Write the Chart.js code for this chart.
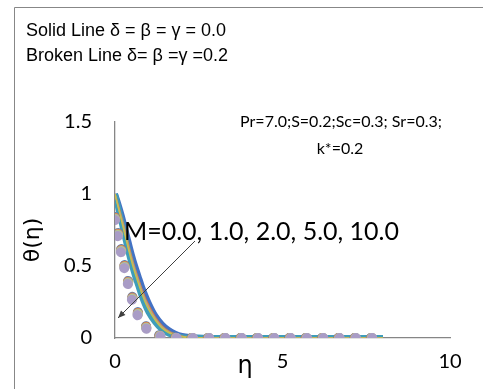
<!DOCTYPE html>
<html lang="en">
<head>
    <meta charset="UTF-8">
    <script src="https://cdn.jsdelivr.net/npm/chart.js"></script>
    <title>theta profiles</title>
    <style>
        body { margin: 0; background: #fff; }
        #wrap { width: 483px; height: 389px; position: relative; }
    </style>
</head>
<body>
    <div id="wrap"><canvas id="thetaChart" width="483" height="389"></canvas></div>

    <script>
        // eta grid
        const eta = [0, 0.1, 0.2, 0.3, 0.4, 0.5, 0.6, 0.7, 0.8, 0.9, 1.0, 1.2, 1.4, 1.6, 1.8, 2.0, 2.5, 3, 3.5, 4, 4.5, 5, 5.5, 6, 6.5, 7, 7.5, 8];

        const mLabels = ['M=0.0', 'M=1.0', 'M=2.0', 'M=5.0', 'M=10.0'];

        // solid lines, delta = beta = gamma = 0.0
        const solidM0  = [1.00, 0.93, 0.85, 0.76, 0.67, 0.58, 0.50, 0.43, 0.36, 0.30, 0.245, 0.155, 0.095, 0.055, 0.030, 0.015, 0.002, 0, 0, 0, 0, 0, 0, 0, 0, 0, 0, 0];
        const solidM1  = [1.00, 0.92, 0.835, 0.745, 0.65, 0.56, 0.48, 0.41, 0.34, 0.28, 0.23, 0.145, 0.085, 0.048, 0.026, 0.012, 0.002, 0, 0, 0, 0, 0, 0, 0, 0, 0, 0, 0];
        const solidM2  = [1.00, 0.91, 0.825, 0.73, 0.635, 0.545, 0.465, 0.395, 0.325, 0.265, 0.215, 0.135, 0.078, 0.043, 0.022, 0.010, 0.001, 0, 0, 0, 0, 0, 0, 0, 0, 0, 0, 0];
        const solidM5  = [1.00, 0.905, 0.81, 0.715, 0.62, 0.53, 0.45, 0.38, 0.31, 0.25, 0.20, 0.125, 0.07, 0.038, 0.018, 0.008, 0.001, 0, 0, 0, 0, 0, 0, 0, 0, 0, 0, 0];
        const solidM10 = [1.00, 0.90, 0.80, 0.70, 0.60, 0.51, 0.43, 0.36, 0.29, 0.23, 0.18, 0.11, 0.06, 0.03, 0.014, 0.006, 0.001, 0, 0, 0, 0, 0, 0, 0, 0, 0, 0, 0];

        // broken lines, delta = beta = gamma = 0.2
        const brokenM0  = [0.84, 0.72, 0.60, 0.49, 0.39, 0.30, 0.23, 0.17, 0.125, 0.09, 0.062, 0.03, 0.013, 0.005, 0.002, 0.001, 0, 0, 0, 0, 0, 0, 0, 0, 0, 0, 0, 0];
        const brokenM1  = [0.835, 0.715, 0.595, 0.485, 0.385, 0.295, 0.225, 0.165, 0.12, 0.086, 0.06, 0.028, 0.012, 0.005, 0.002, 0.001, 0, 0, 0, 0, 0, 0, 0, 0, 0, 0, 0, 0];
        const brokenM2  = [0.83, 0.71, 0.59, 0.48, 0.38, 0.29, 0.22, 0.16, 0.115, 0.082, 0.057, 0.027, 0.012, 0.005, 0.002, 0.001, 0, 0, 0, 0, 0, 0, 0, 0, 0, 0, 0, 0];
        const brokenM5  = [0.825, 0.70, 0.58, 0.47, 0.37, 0.28, 0.21, 0.155, 0.11, 0.078, 0.054, 0.025, 0.011, 0.004, 0.001, 0, 0, 0, 0, 0, 0, 0, 0, 0, 0, 0, 0, 0];
        const brokenM10 = [0.82, 0.69, 0.57, 0.46, 0.36, 0.27, 0.20, 0.145, 0.105, 0.075, 0.05, 0.024, 0.01, 0.004, 0.001, 0, 0, 0, 0, 0, 0, 0, 0, 0, 0, 0, 0, 0];

        const xTicks = [0, 5, 10];
        const yTicks = [0, 0.5, 1, 1.5];

        function pts(vals) {
            return vals.map((v, i) => ({ x: eta[i], y: v }));
        }

        const solidSets = [
            { label: mLabels[0], data: pts(solidM0),  borderColor: '#4472C4', borderWidth: 6 },
            { label: mLabels[4], data: pts(solidM10), borderColor: '#3E9DBA', borderWidth: 6 },
            { label: mLabels[1], data: pts(solidM1),  borderColor: '#ED7D31', borderWidth: 1.5 },
            { label: mLabels[2], data: pts(solidM2),  borderColor: '#A5A5A5', borderWidth: 1.5 },
            { label: mLabels[3], data: pts(solidM5),  borderColor: '#C9C04A', borderWidth: 1.5 }
        ];
        const brokenSets = [
            { label: mLabels[0], data: pts(brokenM0),  borderColor: '#4F81BD' },
            { label: mLabels[1], data: pts(brokenM1),  borderColor: '#ED7D31' },
            { label: mLabels[2], data: pts(brokenM2),  borderColor: '#A5A5A5' },
            { label: mLabels[3], data: pts(brokenM5),  borderColor: '#B8D08A' },
            { label: mLabels[4], data: pts(brokenM10), borderColor: '#A99CC6' }
        ];

        const datasets = [];
        solidSets.forEach(s => datasets.push(Object.assign({
            pointRadius: 0, cubicInterpolationMode: 'monotone', fill: false
        }, s)));
        brokenSets.forEach(s => datasets.push(Object.assign({
            pointRadius: 0, cubicInterpolationMode: 'monotone', fill: false,
            borderWidth: 10, borderDash: [0.1, 16.2], borderCapStyle: 'round'
        }, s)));
        // later datasets should be painted on top
        datasets.forEach((d, i) => d.order = datasets.length - i);

        const labelFont = "Lato, 'Open Sans', sans-serif";

        const decor = {
            id: 'decor',
            beforeDraw(chart) {
                const c = chart.ctx;
                c.save();
                c.fillStyle = '#fff';
                c.fillRect(0, 0, chart.width, chart.height);
                c.strokeStyle = '#878787';
                c.lineWidth = 1;
                c.beginPath();
                c.moveTo(14.5, 400);
                c.lineTo(14.5, 7.5);
                c.lineTo(490, 7.5);
                c.stroke();
                c.restore();
            },
            afterDraw(chart) {
                const c = chart.ctx;
                c.save();
                c.fillStyle = '#000';
                c.textBaseline = 'alphabetic';
                c.textAlign = 'left';
                c.font = "18px 'Liberation Sans', Arial, sans-serif";
                c.fillText('Solid Line \u03B4 = \u03B2 = \u03B3 = 0.0', 26, 36);
                c.fillText('Broken Line \u03B4= \u03B2 =\u03B3 =0.2', 26, 61);

                c.textAlign = 'center';
                c.textBaseline = 'middle';
                c.font = '16px ' + labelFont;
                c.fillText('Pr=7.0;S=0.2;Sc=0.3; Sr=0.3;', 341, 122);
                c.fillText('k*=0.2', 340, 149);

                c.font = '25px ' + labelFont;
                c.textAlign = 'left';
                c.fillText('M=0.0, 1.0, 2.0, 5.0, 10.0', 124, 232);

                // arrow
                const x0 = 195, y0 = 241, x1 = 118, y1 = 318;
                c.strokeStyle = '#404040';
                c.fillStyle = '#404040';
                c.lineWidth = 1;
                c.beginPath();
                c.moveTo(x0, y0);
                c.lineTo(x1, y1);
                c.stroke();
                const a = Math.atan2(y1 - y0, x1 - x0);
                c.beginPath();
                c.moveTo(x1, y1);
                c.lineTo(x1 - 8 * Math.cos(a - 0.4), y1 - 8 * Math.sin(a - 0.4));
                c.lineTo(x1 - 8 * Math.cos(a + 0.4), y1 - 8 * Math.sin(a + 0.4));
                c.closePath();
                c.fill();

                // axis titles
                c.fillStyle = '#000';
                c.font = "24px 'DejaVu Sans', sans-serif";
                c.textAlign = 'center';
                c.fillText('\u03B7', 245, 367);
                c.font = "22px 'DejaVu Sans', sans-serif";
                c.translate(33, 240);
                c.rotate(-Math.PI / 2);
                c.fillText('\u03B8(\u03B7)', 0, 0);
                c.restore();
            }
        };

        const ctx = document.getElementById('thetaChart').getContext('2d');
        new Chart(ctx, {
            type: 'line',
            data: { datasets: datasets },
            options: {
                responsive: false,
                animation: false,
                devicePixelRatio: 1,
                layout: { padding: { left: 0, right: 33, top: 122, bottom: 0 } },
                plugins: { legend: { display: false }, tooltip: { enabled: false } },
                scales: {
                    x: {
                        type: 'linear',
                        min: 0, max: 10,
                        afterBuildTicks: s => { s.ticks = xTicks.map(v => ({ value: v })); },
                        afterFit: s => { s.height = 51; },
                        grid: { drawOnChartArea: false, drawTicks: false },
                        border: { display: true, color: '#868686', width: 1.3 },
                        ticks: { color: '#000', padding: 12, font: { family: labelFont, size: 20 },
                                 callback: v => String(v) }
                    },
                    y: {
                        type: 'linear',
                        min: 0, max: 1.5,
                        afterBuildTicks: s => { s.ticks = yTicks.map(v => ({ value: v })); },
                        afterFit: s => { s.width = 115; },
                        grid: { drawOnChartArea: false, drawTicks: false },
                        border: { display: true, color: '#868686', width: 1.3 },
                        ticks: { color: '#000', padding: 23, font: { family: labelFont, size: 20 },
                                 callback: v => String(v) }
                    }
                }
            },
            plugins: [decor]
        });
    </script>
</body>
</html>
